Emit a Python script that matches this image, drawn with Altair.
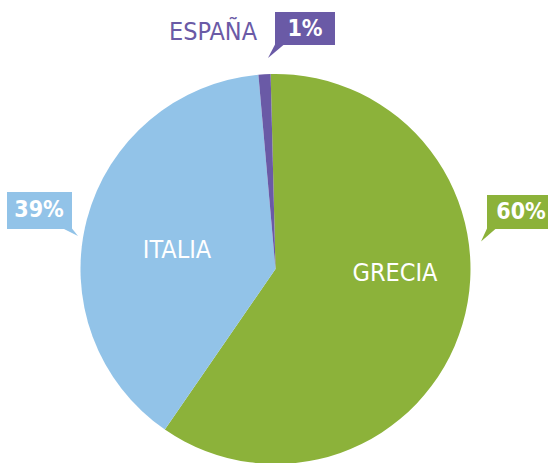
import math
import altair as alt
import pandas as pd

# ---- data ----
categories = ["GRECIA", "ITALIA", "ESPAÑA"]
shares = [60, 39, 1]
colors = ["#8cb23a", "#92c3e8", "#6a5aa6"]

FONT = "DejaVu Sans Condensed, Liberation Sans Narrow, sans-serif"
W, H = 548, 463
CX, CY, R = 275.5, 269, 195
START = -0.025

pie_df = pd.DataFrame({"cat": categories, "share": shares, "ord": list(range(len(categories)))})

pie = alt.Chart(pie_df).mark_arc(outerRadius=R, stroke=None).encode(
    theta=alt.Theta("share:Q", stack=True, scale=alt.Scale(range=[START, 2 * math.pi + START])),
    color=alt.Color("cat:N", scale=alt.Scale(domain=categories, range=colors), legend=None),
    order=alt.Order("ord:Q"),
    x=alt.value(CX),
    y=alt.value(CY),
)

# ---- layout of annotations (pixel positions) ----
name_pos = {"GRECIA": (395, 273, "white"), "ITALIA": (177, 250, "white"), "ESPAÑA": (213, 32, colors[2])}
names_df = pd.DataFrame({
    "label": categories,
    "x": [name_pos[c][0] for c in categories],
    "y": [name_pos[c][1] for c in categories],
    "col": [name_pos[c][2] for c in categories],
})
names = alt.Chart(names_df).mark_text(font=FONT, fontSize=25, baseline="middle", align="center").encode(
    x=alt.X("x:Q", scale=None), y=alt.Y("y:Q", scale=None),
    text="label:N", color=alt.Color("col:N", scale=None),
)

box = {"GRECIA": (487, 553, 195, 229, 521, 212),
       "ITALIA": (7, 72, 192, 229, 39, 210),
       "ESPAÑA": (275, 335, 12, 45, 305, 29)}
box_df = pd.DataFrame({
    "cat": categories,
    "pct": [f"{v}%" for v in shares],
    "x1": [box[c][0] for c in categories], "x2": [box[c][1] for c in categories],
    "y1": [box[c][2] for c in categories], "y2": [box[c][3] for c in categories],
    "tx": [box[c][4] for c in categories], "ty": [box[c][5] for c in categories],
})
color_enc = alt.Color("cat:N", scale=alt.Scale(domain=categories, range=colors), legend=None)
rects = alt.Chart(box_df).mark_rect().encode(
    x=alt.X("x1:Q", scale=None), x2="x2:Q",
    y=alt.Y("y1:Q", scale=None), y2="y2:Q",
    color=color_enc,
)
pct = alt.Chart(box_df).mark_text(font=FONT, fontSize=23, fontWeight="bold", color="white",
                                  baseline="middle", align="center").encode(
    x=alt.X("tx:Q", scale=None), y=alt.Y("ty:Q", scale=None), text="pct:N",
)

tails_spec = [
    ("GRECIA", 487, 228.5, "M0,0 L0.9,0 L-0.6,1.3 Z"),
    ("ITALIA", 72, 228.5, "M0,0 L-0.9,0 L0.6,0.75 Z"),
    ("ESPAÑA", 275, 44.5, "M0,0 L0.9,0 L-0.7,1.35 Z"),
]
tails = []
for cat, ax, ay, path in tails_spec:
    tdf = pd.DataFrame({"cat": [cat], "ax": [ax], "ay": [ay]})
    tails.append(
        alt.Chart(tdf).mark_point(shape=path, filled=True, opacity=1, size=400, strokeWidth=0).encode(
            x=alt.X("ax:Q", scale=None), y=alt.Y("ay:Q", scale=None), color=color_enc,
        )
    )

chart = alt.layer(pie, names, rects, *tails, pct).properties(
    width=W, height=H, autosize=alt.AutoSizeParams(type="none"), padding=0, background="white",
).configure_view(stroke=None)

chart.save("out.html", embed_options={"renderer": "svg", "actions": False})
